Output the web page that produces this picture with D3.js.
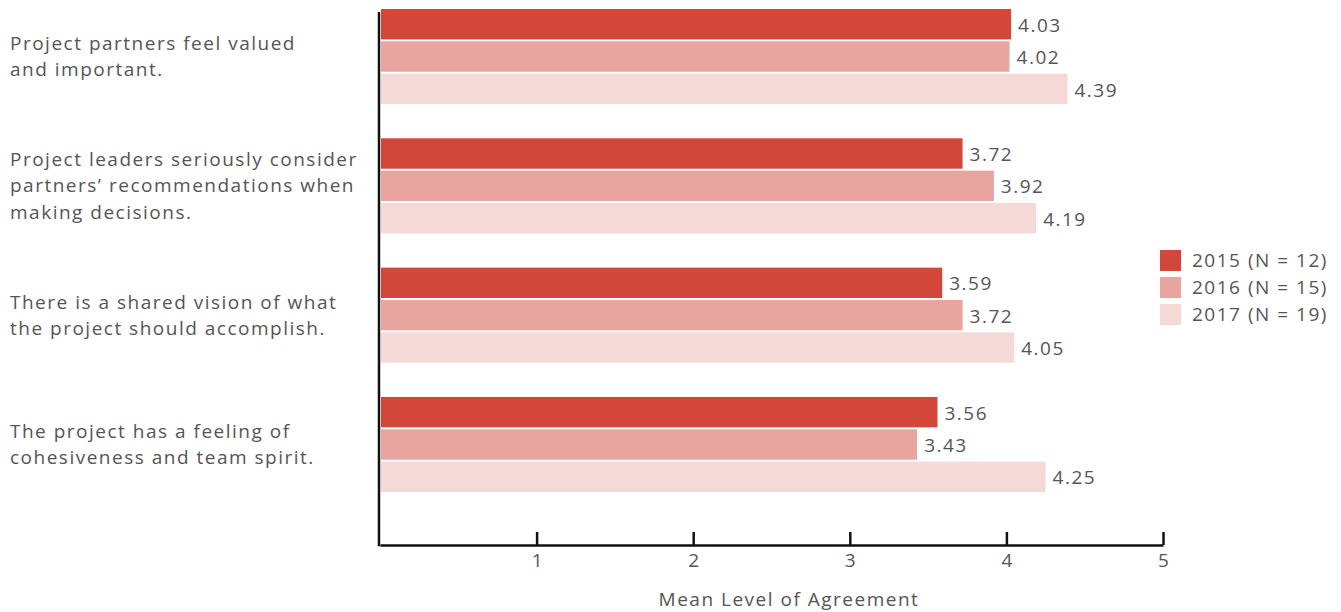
<!DOCTYPE html>
<html>
<head>
<meta charset="utf-8">
<script src="https://cdn.jsdelivr.net/npm/d3@7"></script>
<style>
  html, body { margin: 0; padding: 0; background: #fff; }
  svg { display: block; }
  text { font-family: "Open Sans", "Noto Sans", sans-serif; fill: #555; letter-spacing: 1.5px; }
</style>
</head>
<body>
<svg id="chart" width="1341" height="612"></svg>
<script>
// Survey statements (each split into display lines)
const statements = [
  ["Project partners feel valued", "and important."],
  ["Project leaders seriously consider", "partners’ recommendations when", "making decisions."],
  ["There is a shared vision of what", "the project should accomplish."],
  ["The project has a feeling of", "cohesiveness and team spirit."]
];
const years = ["2015", "2016", "2017"];
const legendLabels = ["2015 (N = 12)", "2016 (N = 15)", "2017 (N = 19)"];
const values2015 = [4.03, 3.72, 3.59, 3.56];
const values2016 = [4.02, 3.92, 3.72, 3.43];
const values2017 = [4.39, 4.19, 4.05, 4.25];
const tickValues = [1, 2, 3, 4, 5];
const axisTitle = "Mean Level of Agreement";

const colors = ["#d3473b", "#e8a49e", "#f5d9d6"];
const series = [values2015, values2016, values2017];

const svg = d3.select("#chart");
const plotLeft = 380, plotRight = 1163, axisY = 545;

const x = d3.scaleLinear().domain([0, 5]).range([plotLeft, plotRight]);
const groupIdx = d3.range(statements.length);
const y0 = d3.scaleBand().domain(groupIdx).range([9, 492]).paddingInner(0.265).paddingOuter(0);
const y1 = d3.scaleBand().domain(years).range([0, y0.bandwidth()]).paddingInner(0.06).paddingOuter(0);
const color = d3.scaleOrdinal().domain(years).range(colors);

// Bars and value labels
const groups = svg.append("g").selectAll("g")
  .data(groupIdx).join("g")
  .attr("transform", i => `translate(0,${y0(i)})`);

const cells = groups.selectAll("g")
  .data(i => years.map((yr, k) => ({ yr, v: series[k][i] })))
  .join("g");

cells.append("rect")
  .attr("x", x(0) + 1)
  .attr("y", d => y1(d.yr))
  .attr("width", d => x(d.v) - x(0) - 1)
  .attr("height", y1.bandwidth())
  .attr("fill", d => color(d.yr));

cells.append("text")
  .attr("x", d => x(d.v) + 7)
  .attr("y", d => y1(d.yr) + y1.bandwidth() / 2 + 1)
  .attr("dy", "0.35em")
  .style("font-size", "19px")
  .text(d => d.v.toFixed(2));

// Category labels on the left
const lineH = 26.5;
svg.append("g").selectAll("text")
  .data(groupIdx).join("text")
  .attr("x", 10)
  .attr("y", i => y0(i) + y0.bandwidth() / 2 - (statements[i].length - 1) * lineH / 2)
  .style("font-size", "19px")
  .each(function (i) {
    d3.select(this).selectAll("tspan")
      .data(statements[i]).join("tspan")
      .attr("x", 10)
      .attr("dy", (d, j) => j === 0 ? "0.35em" : lineH)
      .text(d => d);
  });

// Bottom axis with ticks pointing up
const xAxis = d3.axisBottom(x)
  .tickValues(tickValues)
  .tickFormat(d3.format("d"))
  .tickSizeInner(-13)
  .tickSizeOuter(0)
  .tickPadding(9);

const gx = svg.append("g")
  .attr("transform", `translate(0,${axisY})`)
  .call(xAxis);
gx.select(".domain").attr("stroke", "#111").attr("stroke-width", 2.5);
gx.selectAll(".tick line").attr("stroke", "#111").attr("stroke-width", 2.5);
gx.selectAll(".tick text")
  .attr("fill", "#555")
  .style("font-family", "'Open Sans', sans-serif")
  .style("font-size", "19px")
  .style("letter-spacing", "0px");

// Vertical axis line
svg.append("line")
  .attr("x1", plotLeft - 1).attr("x2", plotLeft - 1)
  .attr("y1", 12).attr("y2", axisY + 1.25)
  .attr("stroke", "#111").attr("stroke-width", 2.5);

// Axis title
svg.append("text")
  .attr("x", 789)
  .attr("y", 606)
  .attr("text-anchor", "middle")
  .style("font-size", "19px")
  .text(axisTitle);

// Legend
const legend = svg.append("g").attr("transform", "translate(1160,250)");
const li = legend.selectAll("g").data(years).join("g")
  .attr("transform", (d, k) => `translate(0,${k * 27})`);
li.append("rect").attr("width", 21).attr("height", 21).attr("fill", d => color(d));
li.append("text")
  .attr("x", 32).attr("y", 10.5).attr("dy", "0.35em")
  .style("font-size", "19px")
  .text((d, k) => legendLabels[k]);
</script>
</body>
</html>
